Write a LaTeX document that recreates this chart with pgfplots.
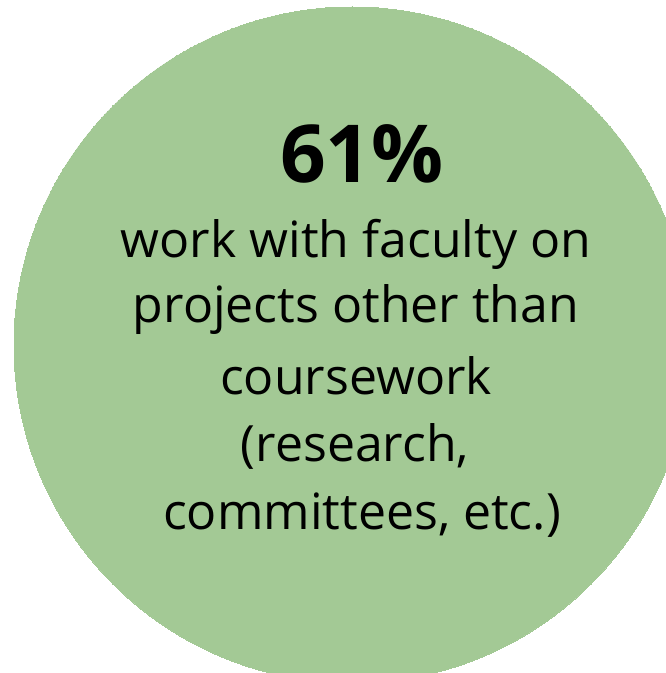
\documentclass[border=0pt]{standalone}
\usepackage{pgfplots}
\pgfplotsset{compat=1.18}
\usepackage{fontspec}
\setmainfont{Open Sans}
\definecolor{circgreen}{RGB}{163,201,149}
\begin{document}
\begin{tikzpicture}[x=1pt,y=1pt]
\useasboundingbox (0,0) rectangle (666,673);
\begin{axis}[
  at={(0,0)}, anchor=south west,
  scale only axis, width=666pt, height=673pt,
  xmin=0, xmax=666, ymin=0, ymax=673,
  hide axis, clip marker paths=true,
]
\addplot[circgreen, only marks, mark=*, mark size=338pt,
  mark options={draw=circgreen, fill=circgreen, line width=0pt}] coordinates {(352,328)};
\node[anchor=base, inner sep=0pt, font=\fontsize{80}{90}\selectfont\bfseries] at (axis cs:362,490) {61\%};
\node[anchor=base, inner sep=0pt, font=\fontsize{50}{60}\selectfont] at (axis cs:356,415) {work with faculty on};
\node[anchor=base, inner sep=0pt, font=\fontsize{50}{60}\selectfont] at (axis cs:356,350) {projects other than};
\node[anchor=base, inner sep=0pt, font=\fontsize{50}{60}\selectfont] at (axis cs:356,278) {coursework};
\node[anchor=base, inner sep=0pt, font=\fontsize{50}{60}\selectfont] at (axis cs:355,211) {(research,};
\node[anchor=base, inner sep=0pt, font=\fontsize{50}{60}\selectfont] at (axis cs:362,143) {committees, etc.)};
\end{axis}
\end{tikzpicture}
\end{document}
